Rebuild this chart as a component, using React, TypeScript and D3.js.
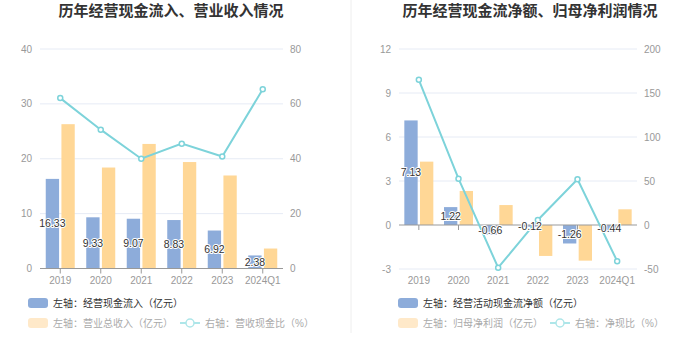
import React from "react";
import * as d3 from "d3";

const categories = ["2019", "2020", "2021", "2022", "2023", "2024Q1"];

// Left chart
const cashInflow = [16.33, 9.33, 9.07, 8.83, 6.92, 2.38];
const revenue = [26.3, 18.4, 22.7, 19.4, 16.95, 3.64];
const cashRevenueRatio = [62.1, 50.6, 40.0, 45.5, 40.8, 65.3];
const leftTicksL = [0, 10, 20, 30, 40];
const leftTicksR = [0, 20, 40, 60, 80];

// Right chart
const netCashFlow = [7.13, 1.22, -0.66, -0.12, -1.26, -0.44];
const netProfit = [4.32, 2.32, 1.36, -2.11, -2.43, 1.07];
const netCashRatio = [165.0, 52.6, -48.5, 5.7, 51.9, -41.1];
const rightTicksL = [-3, 0, 3, 6, 9, 12];
const rightTicksR = [-50, 0, 50, 100, 150, 200];

const BLUE = "#8dacda";
const ORANGE = "#ffd796";
const TEAL = "#7dd3da";
const FONT = "'Liberation Sans', 'Noto Sans CJK SC', sans-serif";

type PanelProps = {
  title: string;
  titleX: number;
  x0: number;
  x1: number;
  yTop: number;
  yBot: number;
  domL: [number, number];
  domR: [number, number];
  ticksL: number[];
  ticksR: number[];
  barA: number[];
  barB: number[];
  line: number[];
  legendA: string;
  legendB: string;
  legendC: string;
  legendX: number;
  legendLineX: number;
};

function Panel(p: PanelProps) {
  const x = d3.scaleBand<string>().domain(categories).range([p.x0, p.x1]).padding(0);
  const sub = d3.scaleBand<string>().domain(["a", "b"]).range([-14.5, 14.5]).paddingInner(0.15);
  const yL = d3.scaleLinear().domain(p.domL).range([p.yBot, p.yTop]);
  const yR = d3.scaleLinear().domain(p.domR).range([p.yBot, p.yTop]);
  const cx = (c: string) => (x(c) as number) + x.bandwidth() / 2;
  const y0 = yL(0);
  const lineGen = d3
    .line<number>()
    .x((_, i) => cx(categories[i]))
    .y((d) => yR(d));

  return (
    <g>
      <text x={p.titleX} y={16} textAnchor="middle" fontSize={15} fontWeight="bold" fill="#333">
        {p.title}
      </text>
      {p.ticksL.map((t) => (
        <g key={"gl" + t}>
          {t !== 0 && (
            <line x1={p.x0} x2={p.x1} y1={yL(t)} y2={yL(t)} stroke="#e6ebf5" strokeWidth={1} />
          )}
          <text x={p.x0 - 8} y={yL(t)} dy="0.35em" textAnchor="end" fontSize={10} fill="#999">
            {t}
          </text>
        </g>
      ))}
      {p.ticksR.map((t) => (
        <text key={"gr" + t} x={p.x1 + 7} y={yR(t)} dy="0.35em" textAnchor="start" fontSize={10} fill="#999">
          {t}
        </text>
      ))}
      {categories.map((c, i) => {
        const a = p.barA[i];
        const b = p.barB[i];
        return (
          <g key={"b" + c}>
            <rect
              x={cx(c) + (sub("a") as number)}
              width={sub.bandwidth()}
              y={Math.min(yL(a), y0)}
              height={Math.abs(yL(a) - y0)}
              fill={BLUE}
            />
            <rect
              x={cx(c) + (sub("b") as number)}
              width={sub.bandwidth()}
              y={Math.min(yL(b), y0)}
              height={Math.abs(yL(b) - y0)}
              fill={ORANGE}
            />
          </g>
        );
      })}
      <line x1={p.x0} x2={p.x1} y1={y0} y2={y0} stroke="#999" strokeWidth={1} />
      {categories.map((c) => (
        <g key={"t" + c}>
          <line x1={cx(c)} x2={cx(c)} y1={y0} y2={y0 + 5} stroke="#999" />
          <text x={cx(c)} y={p.yBot + 15} textAnchor="middle" fontSize={10} fill="#999">
            {c}
          </text>
        </g>
      ))}
      <path d={lineGen(p.line) || ""} fill="none" stroke={TEAL} strokeWidth={2} />
      {p.line.map((v, i) => (
        <circle key={"c" + i} cx={cx(categories[i])} cy={yR(v)} r={2.5} fill="#fff" stroke={TEAL} strokeWidth={1.5} />
      ))}
      {categories.map((c, i) => {
        const a = p.barA[i];
        return (
          <text
            key={"l" + c}
            x={cx(c) + (sub("a") as number) + sub.bandwidth() / 2}
            y={(yL(a) + y0) / 2}
            dy="0.35em"
            textAnchor="middle"
            fontSize={10.5}
            fill="#333"
            stroke="#fff"
            strokeWidth={2}
            paintOrder="stroke"
            strokeLinejoin="round"
          >
            {a.toFixed(2)}
          </text>
        );
      })}
      {/* legend */}
      <rect x={p.legendX} y={298} width={20} height={10} rx={3} fill={BLUE} />
      <text x={p.legendX + 25} y={303} dy="0.35em" fontSize={10} fill="#333">
        {p.legendA}
      </text>
      <rect x={p.legendX} y={318} width={20} height={10} rx={3} fill="#ffe9c9" />
      <text x={p.legendX + 25} y={323} dy="0.35em" fontSize={10} fill="#aaa">
        {p.legendB}
      </text>
      <line x1={p.legendLineX} x2={p.legendLineX + 20} y1={323} y2={323} stroke="#aee6e9" strokeWidth={2} />
      <circle cx={p.legendLineX + 10} cy={323} r={4} fill="#fff" stroke="#aee6e9" strokeWidth={1.5} />
      <text x={p.legendLineX + 25} y={323} dy="0.35em" fontSize={10} fill="#aaa">
        {p.legendC}
      </text>
    </g>
  );
}

export default function App() {
  return (
    <svg
      width={700}
      height={359}
      style={{ position: "absolute", left: 0, top: 0, background: "#fff" }}
      fontFamily={FONT}
    >
      <rect x={0} y={0} width={700} height={359} fill="#fff" />
      <Panel
        title="历年经营现金流入、营业收入情况"
        titleX={171}
        x0={40}
        x1={283}
        yTop={49}
        yBot={268.5}
        domL={[0, 40]}
        domR={[0, 80]}
        ticksL={leftTicksL}
        ticksR={leftTicksR}
        barA={cashInflow}
        barB={revenue}
        line={cashRevenueRatio}
        legendA="左轴：经营现金流入（亿元）"
        legendB="左轴：营业总收入（亿元）"
        legendC="右轴：营收现金比（%）"
        legendX={28}
        legendLineX={180}
      />
      <line x1={351} x2={351} y1={0} y2={333} stroke="#eeeeee" strokeWidth={1} />
      <Panel
        title="历年经营现金流净额、归母净利润情况"
        titleX={530}
        x0={399}
        x1={637}
        yTop={49}
        yBot={269}
        domL={[-3, 12]}
        domR={[-50, 200]}
        ticksL={rightTicksL}
        ticksR={rightTicksR}
        barA={netCashFlow}
        barB={netProfit}
        line={netCashRatio}
        legendA="左轴：经营活动现金流净额（亿元）"
        legendB="左轴：归母净利润（亿元）"
        legendC="右轴：净现比（%）"
        legendX={398}
        legendLineX={550}
      />
    </svg>
  );
}
